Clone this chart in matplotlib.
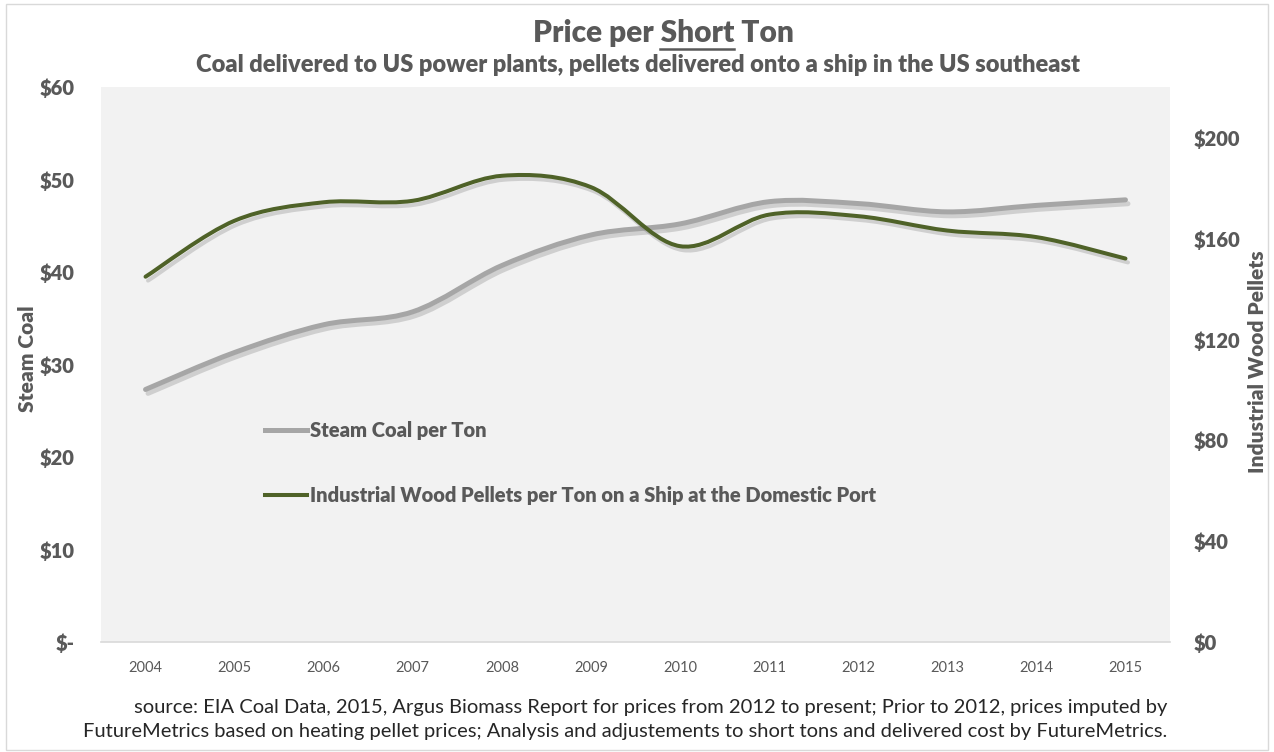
import matplotlib

matplotlib.use("Agg")
import matplotlib.pyplot as plt
import matplotlib.patheffects as pe
from matplotlib.path import Path
from matplotlib.patches import PathPatch, Rectangle
from matplotlib.lines import Line2D
import numpy as np

FONT = "Lato"
BOLD = 800
INK = "#595959"
COAL_C, PELLET_C = "#A6A6A6", "#4F6228"

years = ["2004", "2005", "2006", "2007", "2008", "2009", "2010", "2011", "2012", "2013", "2014", "2015"]
coal = [27.3, 31.3, 34.3, 35.7, 40.7, 44.0, 45.2, 47.6, 47.4, 46.5, 47.2, 47.8]
pellets = [144.8, 167.0, 174.3, 174.9, 184.8, 180.3, 156.9, 169.4, 168.8, 163.1, 160.5, 152.0]
left_ticks = [0, 10, 20, 30, 40, 50, 60]
left_labels = ["$-", "$10", "$20", "$30", "$40", "$50", "$60"]
right_ticks = [0, 40, 80, 120, 160, 200]
right_labels = ["$0", "$40", "$80", "$120", "$160", "$200"]


def px(x, y):
    """pixel position (from top-left) -> figure fraction"""
    return x / 1274, 1 - y / 752


def smooth_path(x, y):
    """Excel-style smoothed line: Catmull-Rom segments as cubic Beziers."""
    pts = np.column_stack([x, y]).astype(float)
    verts, codes = [pts[0]], [Path.MOVETO]
    for i in range(len(pts) - 1):
        p0 = pts[max(i - 1, 0)]
        p1, p2 = pts[i], pts[i + 1]
        p3 = pts[min(i + 2, len(pts) - 1)]
        verts += [p1 + (p2 - p0) / 6, p2 - (p3 - p1) / 6, p2]
        codes += [Path.CURVE4] * 3
    return Path(verts, codes)


def draw_series(ax, y, color, lw):
    shadow = [pe.SimpleLineShadow(offset=(1.8, -2.8), shadow_color="#7F7F7F", alpha=0.3), pe.Normal()]
    patch = PathPatch(smooth_path(np.arange(len(y)), y), facecolor="none", edgecolor=color,
                      lw=lw, capstyle="round", path_effects=shadow, zorder=3)
    ax.add_patch(patch)


fig = plt.figure(figsize=(12.74, 7.52), dpi=100)
fig.patch.set_facecolor("white")
fig.add_artist(Rectangle(px(6, 750), 1262 / 1274, 746 / 752, transform=fig.transFigure,
                         fill=False, edgecolor="#D9D9D9", lw=1))

ax = fig.add_axes([*px(101, 642), 1069 / 1274, 555 / 752])
ax2 = ax.twinx()
ax.set_facecolor("#F2F2F2")
ax.set_xlim(-0.5, len(years) - 0.5)
ax.set_ylim(0, 60)
ax2.set_ylim(0, 220)

draw_series(ax, coal, COAL_C, 3.6)
draw_series(ax2, pellets, PELLET_C, 2.9)

for a in (ax, ax2):
    for s in a.spines.values():
        s.set_visible(False)
    a.tick_params(length=0)
ax.spines["bottom"].set_visible(True)
ax.spines["bottom"].set_color("#D9D9D9")
ax.spines["bottom"].set_linewidth(1.2)

ax.set_xticks(range(len(years)), years, fontsize=10.5, color=INK, fontname=FONT)
ax.tick_params(axis="x", pad=14)
ax.set_yticks(left_ticks, left_labels, fontsize=14.5, fontweight=BOLD, color=INK, fontname=FONT)
ax.tick_params(axis="y", pad=19)
ax2.set_yticks(right_ticks, right_labels, fontsize=14.5, fontweight=BOLD, color=INK, fontname=FONT)
ax2.tick_params(axis="y", pad=17)

fig.text(*px(27, 359), "Steam Coal", rotation=90, ha="center", va="center",
         fontsize=15, fontweight=BOLD, color=INK, fontname=FONT)
fig.text(*px(1257, 362), "Industrial Wood Pellets", rotation=90, ha="center", va="center",
         fontsize=15, fontweight=BOLD, color=INK, fontname=FONT)

# title with underlined "Short"
tkw = dict(fontsize=21.5, fontweight=BOLD, color=INK, fontname=FONT, va="baseline")
tx, ty = 663, 42
title = fig.text(*px(tx, ty), "Price per Short Ton", ha="center", **tkw)
r = fig.canvas.get_renderer()
full_w = title.get_window_extent(r).width
probe1 = fig.text(0, 0, "Price per ", **tkw)
probe2 = fig.text(0, 0, "Price per Short", **tkw)
w1, w2 = probe1.get_window_extent(r).width, probe2.get_window_extent(r).width
probe1.remove(); probe2.remove()
x0 = tx - full_w / 2
(ux0, uy), (ux1, _) = px(x0 + w1, ty + 7), px(x0 + w2, ty + 7)
fig.add_artist(Line2D([ux0, ux1], [uy, uy], transform=fig.transFigure, color=INK, lw=1.8))

fig.text(*px(638, 65), "Coal delivered to US power plants, pellets delivered onto a ship in the US southeast",
         ha="center", va="center", fontsize=17, fontweight=BOLD, color=INK, fontname=FONT)

handles = [Line2D([], [], color=COAL_C, lw=3.6), Line2D([], [], color=PELLET_C, lw=2.9)]
labels = ["Steam Coal per Ton", "Industrial Wood Pellets per Ton on a Ship at the Domestic Port"]
leg = ax.legend(handles, labels, loc="upper left", bbox_to_anchor=px(255, 411),
                bbox_transform=fig.transFigure, frameon=False, handlelength=2.1, handletextpad=0.15,
                labelspacing=2.3, borderpad=0, prop=dict(family=FONT, weight=BOLD, size=14.5))
for t in leg.get_texts():
    t.set_color(INK)

fig.text(*px(1167, 708),
         "source: EIA Coal Data, 2015, Argus Biomass Report for prices from 2012 to present; Prior to 2012, prices imputed by",
         ha="right", va="center", fontsize=14.5, color="#262626", fontname=FONT)
fig.text(*px(1167, 732),
         "FutureMetrics based on heating pellet prices; Analysis and adjustements to short tons and delivered cost by FutureMetrics.",
         ha="right", va="center", fontsize=14.5, color="#262626", fontname=FONT)

fig.savefig("out.png", dpi=100)
